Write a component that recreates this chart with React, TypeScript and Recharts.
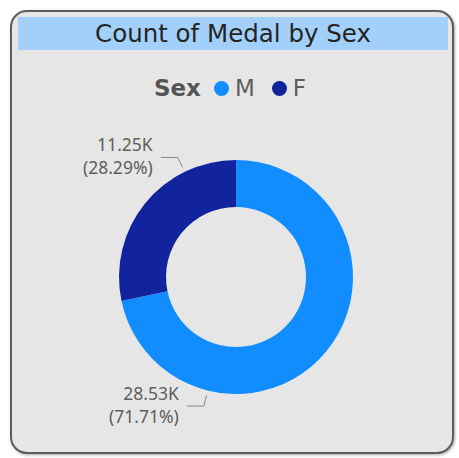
import { Cell, Pie, PieChart } from "recharts";

// data
const sexes = ["M", "F"];
const medalCounts = [28527, 11253];
const sliceColors = ["#118DFF", "#12239E"];

const chartData = sexes.map((sex, i) => ({ sex, count: medalCounts[i] }));
const total = medalCounts.reduce((a, b) => a + b, 0);

// leader anchor angles (degrees, recharts convention) per slice
const labelAngles = [-104, 116];

const RAD = Math.PI / 180;
const labelFont = "'Noto Sans', sans-serif";

function renderLabel(props: any) {
  const { cx, cy, outerRadius, index, value } = props;
  const a = labelAngles[index] * RAD;
  const r1 = outerRadius + 5;
  const r2 = outerRadius + 16;
  const x1 = cx + r1 * Math.cos(a);
  const y1 = cy - r1 * Math.sin(a);
  const x2 = cx + r2 * Math.cos(a);
  const y2 = cy - r2 * Math.sin(a);
  const x3 = x2 - 17;
  const pct = ((value / total) * 100).toFixed(2);
  return (
    <g>
      <polyline points={`${x1},${y1} ${x2},${y2} ${x3},${y2}`} fill="none" stroke="#8a8886" strokeWidth={1} />
      <text x={x3 - 8} y={y2 - 6} textAnchor="end" fill="#605E5C" fontSize={17.5} fontFamily={labelFont}>
        {(value / 1000).toFixed(2)}K
      </text>
      <text x={x3 - 8} y={y2 + 17} textAnchor="end" fill="#605E5C" fontSize={17.5} fontFamily={labelFont}>
        ({pct}%)
      </text>
    </g>
  );
}

export default function App() {
  return (
    <div style={{ position: "absolute", left: 0, top: 0, width: 459, height: 458, background: "#fff" }}>
      <div
        style={{
          position: "absolute",
          left: 10,
          top: 10,
          width: 440,
          height: 440,
          border: "2px solid #5c5c5c",
          borderRadius: 17,
          background: "#E6E6E6",
          boxShadow: "1px 1px 3px rgba(0,0,0,0.35)",
        }}
      />
      <div
        style={{
          position: "absolute",
          left: 18,
          top: 17,
          width: 430,
          height: 33,
          background: "#A3D0FB",
          color: "#252423",
          fontFamily: "'DejaVu Sans', sans-serif",
          fontSize: 24.5,
          lineHeight: "33px",
          textAlign: "center",
        }}
      >
        Count of Medal by Sex
      </div>
      <div
        style={{
          position: "absolute",
          left: 0,
          top: 74,
          width: 459,
          height: 28,
          display: "flex",
          justifyContent: "center",
          alignItems: "center",
          fontFamily: "'DejaVu Sans', sans-serif",
          fontSize: 23,
          color: "#605E5C",
          paddingLeft: 1,
          boxSizing: "border-box",
        }}
      >
        <span style={{ fontWeight: 700, color: "#555", marginRight: 13 }}>Sex</span>
        {sexes.map((s, i) => (
          <span key={s} style={{ display: "flex", alignItems: "center", marginRight: i < sexes.length - 1 ? 17 : 0 }}>
            <span
              style={{
                width: 15,
                height: 15,
                borderRadius: "50%",
                background: sliceColors[i],
                display: "inline-block",
                marginRight: 6,
              }}
            />
            {s}
          </span>
        ))}
      </div>
      <div style={{ position: "absolute", left: 0, top: 0 }}>
        <PieChart width={459} height={458} margin={{ top: 0, right: 0, bottom: 0, left: 0 }}>
          <Pie
            data={chartData}
            dataKey="count"
            nameKey="sex"
            cx={236}
            cy={277}
            outerRadius={117}
            innerRadius={70}
            startAngle={90}
            endAngle={-270}
            stroke="none"
            label={renderLabel}
            labelLine={false}
            isAnimationActive={false}
          >
            {chartData.map((d, i) => (
              <Cell key={d.sex} fill={sliceColors[i]} />
            ))}
          </Pie>
        </PieChart>
      </div>
    </div>
  );
}
